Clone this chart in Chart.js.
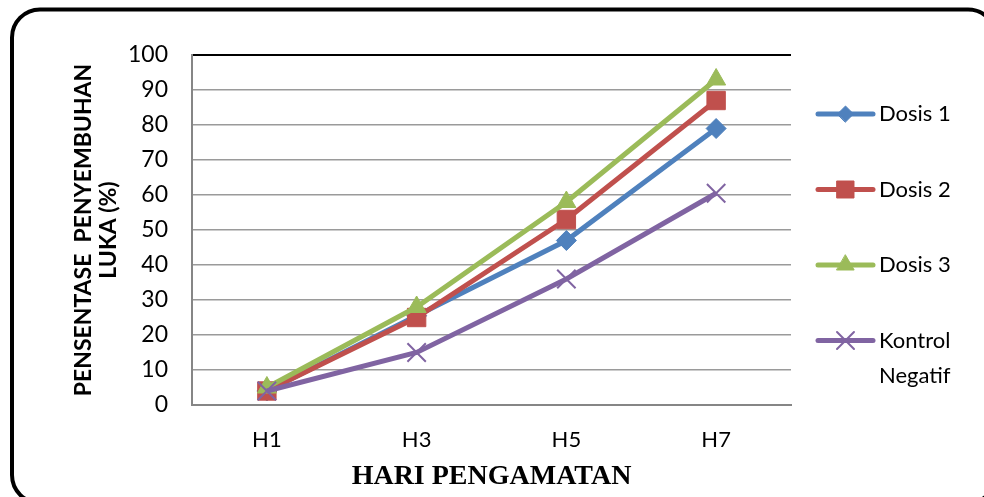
<!DOCTYPE html>
<html>
<head>
<meta charset="utf-8">
<script src="https://cdn.jsdelivr.net/npm/chart.js@4/dist/chart.umd.min.js"></script>
<style>
  body { margin: 0; background: #fff; }
  #wrap { width: 984px; height: 497px; position: relative; }
</style>
</head>
<body>
<div id="wrap"><canvas id="chart"></canvas></div>
<script>
const days = ["H1", "H3", "H5", "H7"];
const dosis1 = [4, 25.5, 47, 79];
const dosis2 = [4, 25, 53, 87];
const dosis3 = [5, 28, 58, 93];
const kontrol = [4, 15, 36, 60.5];
const yTicks = [0, 10, 20, 30, 40, 50, 60, 70, 80, 90, 100];

const seriesNames = ["Dosis 1", "Dosis 2", "Dosis 3", ["Kontrol", "Negatif"]];

// outer rounded frame
const framePlugin = {
    id: "frame",
    beforeDraw(chart) {
        const ctx = chart.ctx;
        ctx.save();
        ctx.fillStyle = "#fff";
        ctx.fillRect(0, 0, chart.width, chart.height);
        ctx.beginPath();
        ctx.roundRect(12, 9.5, 984, 493.5, 28);
        ctx.lineWidth = 4;
        ctx.strokeStyle = "#000";
        ctx.stroke();
        ctx.restore();
    }
};

// legend drawn by hand so "Kontrol Negatif" can wrap
const legendPlugin = {
    id: "sideLegend",
    afterDraw(chart) {
        const ctx = chart.ctx;
        const x0 = 818, x1 = 873;
        const yStart = 114, step = 75.5;
        ctx.save();
        chart.data.datasets.forEach((ds, i) => {
            const y = yStart + i * step;
            ctx.beginPath();
            ctx.moveTo(x0, y);
            ctx.lineTo(x1, y);
            ctx.lineWidth = 5;
            ctx.lineCap = "round";
            ctx.strokeStyle = ds.borderColor;
            ctx.stroke();
            ctx.fillStyle = ds.pointBackgroundColor;
            ctx.strokeStyle = ds.pointBorderColor;
            ctx.lineWidth = ds.pointBorderWidth;
            Chart.helpers.drawPoint(ctx, {
                pointStyle: ds.pointStyle,
                radius: ds.legendRadius,
                rotation: 0,
                borderWidth: ds.pointBorderWidth
            }, (x0 + x1) / 2, y);
            ctx.fillStyle = "#000";
            ctx.font = "22px Lato";
            ctx.textBaseline = "middle";
            ctx.textAlign = "left";
            const lines = Array.isArray(seriesNames[i]) ? seriesNames[i] : [seriesNames[i]];
            lines.forEach((t, k) => ctx.fillText(t, 879, y + k * 35));
        });
        ctx.restore();
    }
};

function makeSet(label, data, color, style, radius, legendRadius, order) {
    const isCross = style === "crossRot";
    return {
        label: label,
        data: data,
        borderColor: color,
        backgroundColor: color,
        borderWidth: 5,
        tension: 0,
        pointStyle: style,
        pointRadius: radius,
        pointHoverRadius: radius,
        pointBackgroundColor: color,
        pointBorderColor: color,
        pointBorderWidth: isCross ? 2 : 1,
        legendRadius: legendRadius,
        order: order
    };
}

new Chart(document.getElementById("chart"), {
    type: "line",
    data: {
        labels: days,
        datasets: [
            makeSet("Dosis 1", dosis1, "#4F81BD", "rectRot", 10, 8, 4),
            makeSet("Dosis 2", dosis2, "#C0504D", "rect", 13, 12, 3),
            makeSet("Dosis 3", dosis3, "#9BBB59", "triangle", 11, 10, 2),
            makeSet("Kontrol Negatif", kontrol, "#8064A2", "crossRot", 13, 12, 1)
        ]
    },
    options: {
        responsive: true,
        maintainAspectRatio: false,
        animation: false,
        layout: { padding: { left: 12, top: 55, right: 193, bottom: 0 } },
        plugins: {
            legend: { display: false },
            tooltip: { enabled: false }
        },
        scales: {
            x: {
                offset: true,
                afterFit(scale) { scale.height = 92; },
                grid: {
                    drawTicks: false,
                    offset: true,
                    color: c => c.index === days.length ? "#000" : "rgba(0,0,0,0)",
                    lineWidth: 2
                },
                border: { color: "#868686", width: 2 },
                ticks: {
                    padding: 22,
                    color: "#000",
                    font: { family: "Lato", size: 22 }
                },
                title: {
                    display: true,
                    text: "HARI PENGAMATAN",
                    color: "#000",
                    font: { family: "Liberation Serif", size: 28, weight: "bold", lineHeight: 1 },
                    padding: { top: 0, bottom: 6 }
                }
            },
            y: {
                min: 0,
                max: 100,
                afterFit(scale) { scale.width = 180; },
                afterBuildTicks(scale) { scale.ticks = yTicks.map(v => ({ value: v })); },
                grid: {
                    drawTicks: false,
                    color: c => c.tick && c.tick.value === 100 ? "#000" : "#9a9a9a",
                    lineWidth: c => c.tick && c.tick.value === 100 ? 2 : 1.5
                },
                border: { color: "#868686", width: 2 },
                ticks: {
                    padding: 24,
                    color: "#000",
                    font: { family: "Lato", size: 23 }
                },
                title: {
                    display: true,
                    text: ["PENSENTASE  PENYEMBUHAN", "LUKA (%)"],
                    color: "#000",
                    font: { family: "Lato", size: 23, weight: "bold", lineHeight: 1.05 },
                    padding: { top: 60, bottom: 0 }
                }
            }
        }
    },
    plugins: [framePlugin, legendPlugin]
});
</script>
</body>
</html>
